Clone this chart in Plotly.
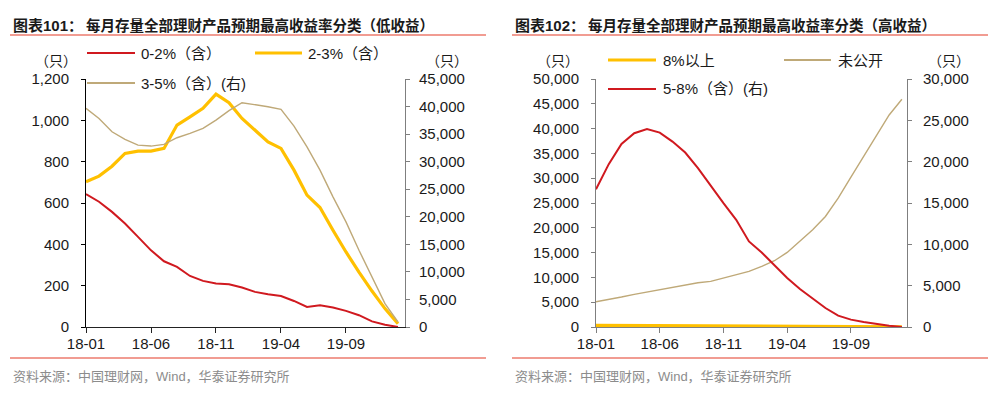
import plotly.graph_objects as go

# ---------------- data ----------------
months = ["18-01", "18-02", "18-03", "18-04", "18-05", "18-06", "18-07", "18-08",
          "18-09", "18-10", "18-11", "18-12", "19-01", "19-02", "19-03", "19-04",
          "19-05", "19-06", "19-07", "19-08", "19-09", "19-10", "19-11", "19-12", "20-01"]
tick_labels = ["18-01", "18-06", "18-11", "19-04", "19-09"]

# Chart 101 (low yield)
low_0_2 = [643, 606, 557, 501, 436, 371, 318, 291, 247, 223, 210, 207, 191, 170, 158,
           150, 126, 97, 105, 94, 78, 57, 27, 11, 0]
low_2_3 = [703, 730, 778, 840, 851, 851, 864, 977, 1017, 1058, 1127, 1085, 1009, 950, 896,
           864, 759, 638, 578, 468, 363, 266, 174, 89, 16]
low_3_5_right = [39670, 37850, 35430, 34040, 33010, 32830, 33130, 34340, 35130, 36040, 37550,
                 39250, 40700, 40400, 39970, 39490, 36460, 32700, 28470, 23620, 19080, 13930,
                 9080, 4240, 910]

# Chart 102 (high yield)
high_8_plus = [310, 305, 300, 290, 285, 280, 270, 265, 255, 250, 240, 235, 225, 215, 205,
               190, 180, 165, 150, 135, 120, 100, 80, 60, 40]
high_undisclosed = [5100, 5500, 6040, 6580, 7050, 7520, 7990, 8520, 8930, 9190, 9870, 10470,
                    11210, 12210, 13360, 15030, 17250, 19600, 22280, 25970, 30200, 34360,
                    38720, 42750, 45910]
high_5_8_right = [16670, 19700, 22150, 23440, 23960, 23520, 22430, 21100, 19210, 17070, 14980,
                  12970, 10350, 9020, 7530, 5920, 4590, 3420, 2300, 1370, 890, 600, 360, 160, 0]

# ---------------- style ----------------
W, H = 995, 395
RED = "#D0191F"
YEL = "#FFC000"
TAN = "#BFA978"
SALMON = "#EC7B6E"
FONT = "Liberation Sans, Arial, Noto Sans CJK SC, sans-serif"
CJK = "Liberation Sans, Noto Sans CJK SC, sans-serif"
TXT = "#1a1a1a"


def px(x):
    return x / W


def py(y):
    return 1 - y / H


fig = go.Figure()

# left chart
fig.add_trace(go.Scatter(x=months, y=low_3_5_right, mode="lines", xaxis="x", yaxis="y2",
                         line=dict(color=TAN, width=1.4), showlegend=False))
fig.add_trace(go.Scatter(x=months, y=low_0_2, mode="lines", xaxis="x", yaxis="y",
                         line=dict(color=RED, width=2), showlegend=False))
fig.add_trace(go.Scatter(x=months, y=low_2_3, mode="lines", xaxis="x", yaxis="y",
                         line=dict(color=YEL, width=3.2), showlegend=False))

# right chart
fig.add_trace(go.Scatter(x=months, y=high_undisclosed, mode="lines", xaxis="x2", yaxis="y3",
                         line=dict(color=TAN, width=1.4), showlegend=False))
fig.add_trace(go.Scatter(x=months, y=high_8_plus, mode="lines", xaxis="x2", yaxis="y3",
                         line=dict(color=YEL, width=3.2), showlegend=False))
fig.add_trace(go.Scatter(x=months, y=high_5_8_right, mode="lines", xaxis="x2", yaxis="y4",
                         line=dict(color=RED, width=2), showlegend=False))

ydom = [py(327), py(79)]
tickfont = dict(family=FONT, size=15, color=TXT)

xcommon = dict(type="category", categoryorder="array", categoryarray=months,
               tickmode="array", tickvals=tick_labels, ticktext=tick_labels,
               ticks="outside", ticklen=5, showline=True, showgrid=False, zeroline=False,
               tickfont=tickfont, ticklabelstandoff=-2, automargin=False)
ycommon = dict(ticks="outside", ticklen=4, showline=True, showgrid=False, zeroline=False,
               tickformat=",", tickfont=tickfont, domain=ydom, automargin=False)

fig.update_layout(
    width=W, height=H, autosize=False,
    margin=dict(l=0, r=0, t=0, b=0, pad=0, autoexpand=False),
    paper_bgcolor="white", plot_bgcolor="white",
    xaxis=dict(domain=[px(86), px(405)], range=[0, 24.54], anchor="y",
               linecolor="#222", tickcolor="#222", **xcommon),
    yaxis=dict(anchor="x", range=[0, 1200], dtick=200, linecolor="#000", tickcolor="#000",
               ticklabelstandoff=9, **ycommon),
    yaxis2=dict(anchor="x", overlaying="y", side="right", range=[0, 45000], dtick=5000,
                linecolor="#7f7f7f", tickcolor="#7f7f7f", ticklabelstandoff=6, **ycommon),
    xaxis2=dict(domain=[px(596), px(907)], range=[0, 24.4], anchor="y3",
                linecolor="#7f7f7f", tickcolor="#7f7f7f", **xcommon),
    yaxis3=dict(anchor="x2", range=[0, 50000], dtick=5000, linecolor="#7f7f7f",
                tickcolor="#7f7f7f", ticklabelstandoff=9, **ycommon),
    yaxis4=dict(anchor="x2", overlaying="y3", side="right", range=[0, 30000], dtick=5000,
                linecolor="#7f7f7f", tickcolor="#7f7f7f", ticklabelstandoff=8, **ycommon),
)

shapes = []
annots = []


def line_shape(x0, x1, y, color, width, dash="solid"):
    shapes.append(dict(type="line", xref="paper", yref="paper", x0=px(x0), x1=px(x1),
                       y0=py(y), y1=py(y), line=dict(color=color, width=width, dash=dash)))


def text(x, y, s, size=15, color=TXT, xanchor="left", family=CJK):
    annots.append(dict(x=px(x), y=py(y), xref="paper", yref="paper", text=s, showarrow=False,
                       xanchor=xanchor, yanchor="middle",
                       font=dict(family=family, size=size, color=color)))


# title rules and footer rules
for x0, x1 in [(10, 486), (512, 988)]:
    line_shape(x0, x1, 35, SALMON, 1.6)
    line_shape(x0, x1, 358, SALMON, 1.6)

# titles
text(11, 25, "<b>图表101：</b>", size=15)
text(84, 25, "<b>每月存量全部理财产品预期最高收益率分类（低收益）</b>", size=14.5)
text(513, 25, "<b>图表102：</b>", size=15)
text(586, 25, "<b>每月存量全部理财产品预期最高收益率分类（高收益）</b>", size=14.5)

# footers
text(11, 376, "资料来源：中国理财网，Wind，华泰证券研究所", size=13, color="#8c8c8c")
text(513, 376, "资料来源：中国理财网，Wind，华泰证券研究所", size=13, color="#8c8c8c")

# unit labels
text(56, 61, "（只）", size=14, xanchor="center")
text(447, 61, "（只）", size=14, xanchor="center")
text(558, 61, "（只）", size=14, xanchor="center")
text(949, 61, "（只）", size=14, xanchor="center")

# left legend
line_shape(87, 135, 53, RED, 2)
text(139, 53, "0-2%（含）")
line_shape(255, 302, 53, YEL, 3.2)
text(306, 53, "2-3%（含）")
line_shape(87, 135, 83, TAN, 2)
text(139, 83, "3-5%（含）(右)")

# right legend
line_shape(608, 656, 60, YEL, 3.2)
text(661, 60, "8%以上")
line_shape(784, 831, 60, TAN, 2)
text(836, 60, "未公开")
line_shape(608, 656, 89, RED, 2)
text(661, 89, "5-8%（含）(右)")

fig.update_layout(shapes=shapes, annotations=annots)
fig.write_html("out.html", config={"displayModeBar": False},
               post_script="document.body.style.margin='0';document.body.style.padding='0';")
